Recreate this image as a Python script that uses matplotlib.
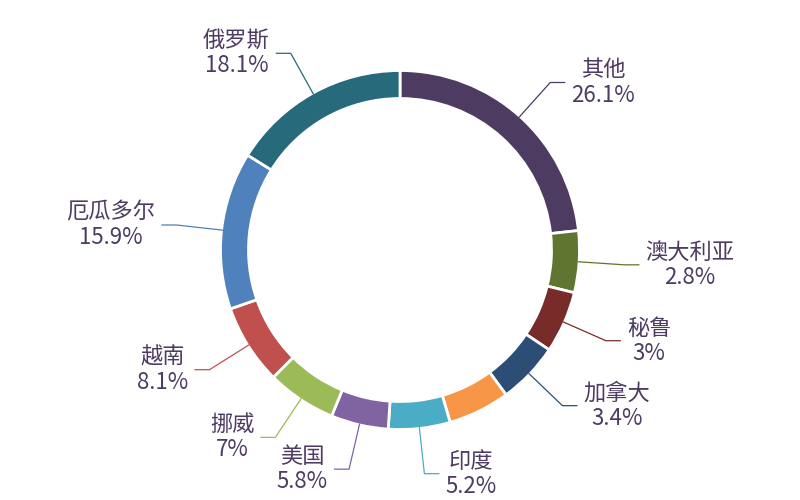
import numpy as np
import matplotlib
matplotlib.use("Agg")
import matplotlib.pyplot as plt

plt.rcParams['font.family'] = ['Noto Sans CJK SC', 'DejaVu Sans']

# data (clockwise from 12 o'clock)
names = ['其他', '澳大利亚', '秘鲁', '加拿大', None, '印度', '美国', '挪威', '越南', '厄瓜多尔', '俄罗斯']
values = [26.1, 2.8, 3.0, 3.4, 4.6, 5.2, 5.8, 7.0, 8.1, 15.9, 18.1]
pct_labels = ['26.1%', '2.8%', '3%', '3.4%', None, '5.2%', '5.8%', '7%', '8.1%', '15.9%', '18.1%']
colors = ['#4d3b62', '#5f7530', '#772c2a', '#2c4d75', '#f79646', '#4bacc6',
          '#8064a2', '#9bbb59', '#c0504d', '#4f81bd', '#276a7c']

MIN_ANGLE = 20.0  # degrees, minimum slice angle

# apply minimum-angle layout rule
vals = np.array(values, dtype=float)
raw = vals / vals.sum() * 360.0
small = raw < MIN_ANGLE
rest = 360.0 - small.sum() * MIN_ANGLE
angles = np.where(small, MIN_ANGLE, vals / vals[~small].sum() * rest)

fig = plt.figure(figsize=(8, 5), dpi=100)
ax = fig.add_axes([0, 0, 1, 1])
cx, cy = 400, 250
R = 179.5
wedges, _ = ax.pie(angles, center=(cx, cy), radius=R, startangle=90, counterclock=False,
                   colors=colors,
                   wedgeprops=dict(width=28, edgecolor='white', linewidth=2))

text_color = '#4d3b62'
L1 = 225.0
L2 = 15.0
GAP = 6.0
for w, name, pl, col in zip(wedges, names, pct_labels, colors):
    if name is None:
        continue
    th = np.deg2rad((w.theta1 + w.theta2) / 2.0)
    c, s = np.cos(th), np.sin(th)
    x0, y0 = cx + 178 * c, cy + 178 * s
    x1, y1 = cx + L1 * c, cy + L1 * s
    side = 1 if c >= 0 else -1
    x2 = x1 + side * L2
    ax.plot([x0, x1, x2], [y0, y1, y1], color=col, lw=0.9, solid_capstyle='butt')
    ha = 'left' if side > 0 else 'right'
    ax.text(x2 + side * GAP, y1, f'{name}\n{pl}', ha=ha, va='center', multialignment='center',
            fontsize=16, color=text_color, linespacing=1.12)

ax.set_xlim(0, 800)
ax.set_ylim(0, 500)
ax.set_aspect('equal')
ax.axis('off')
fig.savefig('out.png', dpi=100)
